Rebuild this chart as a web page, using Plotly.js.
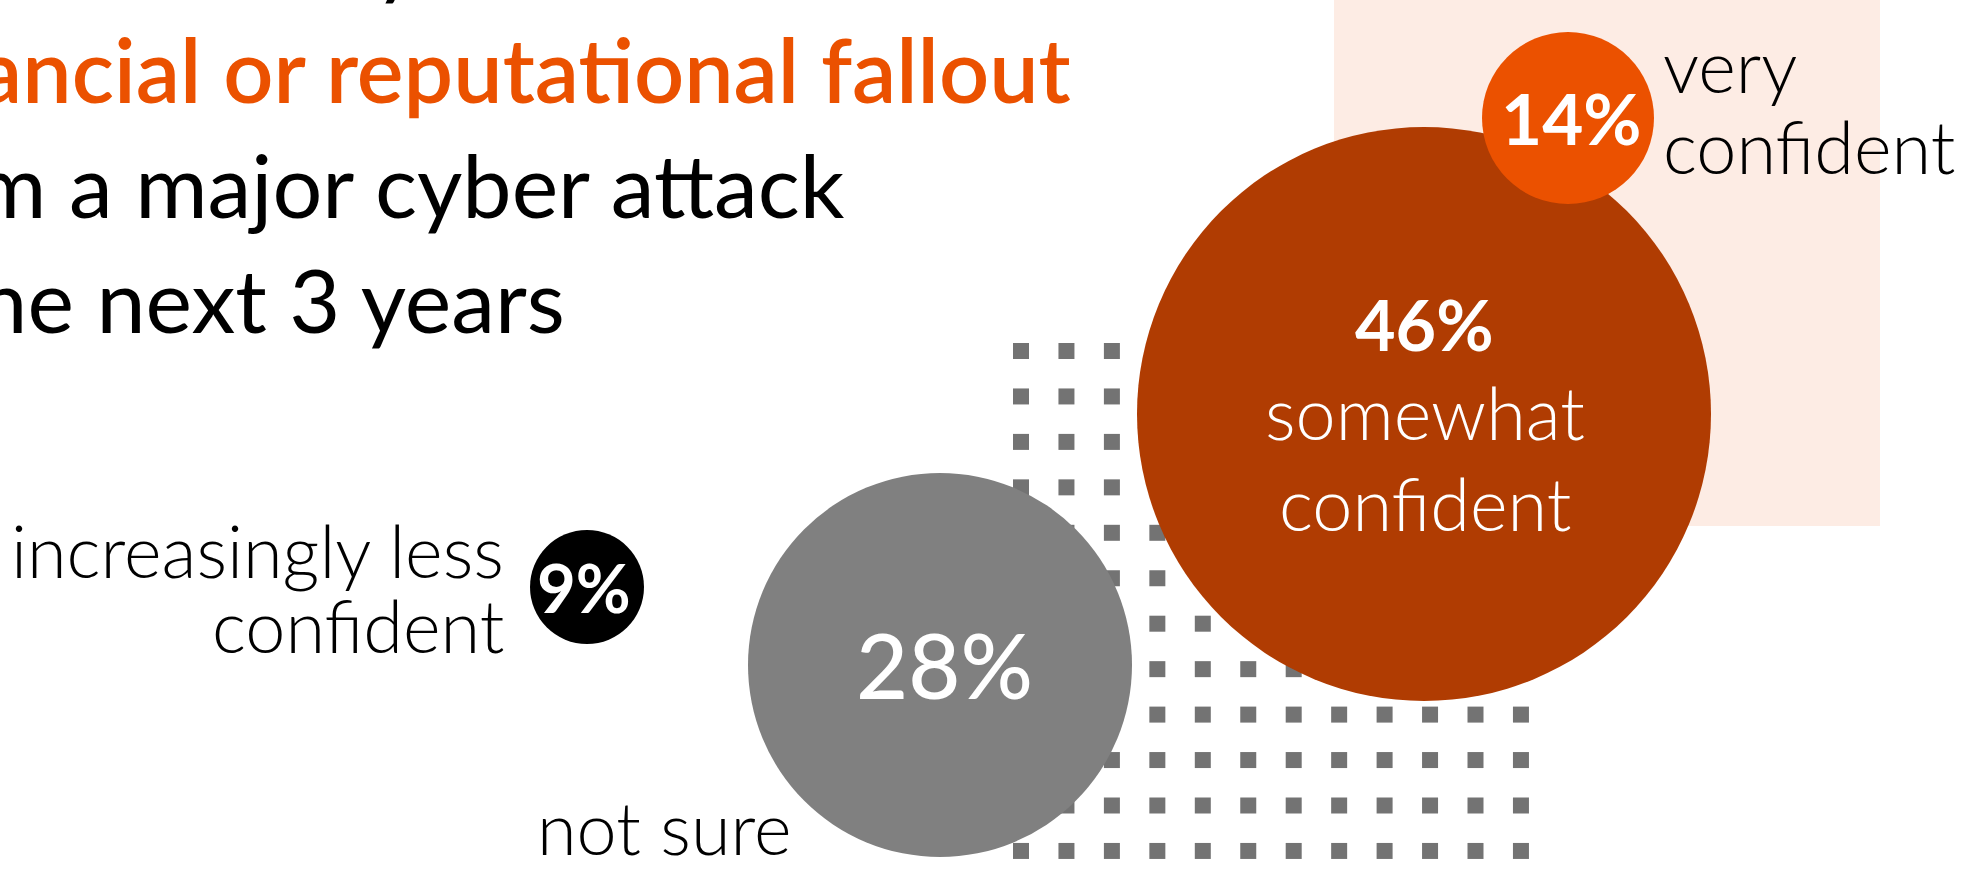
<!DOCTYPE html>
<html><head><meta charset="utf-8">
<script src="https://cdn.plot.ly/plotly-3.0.1.min.js"></script>
<style>html,body{margin:0;padding:0;background:#fff;overflow:hidden}</style>
</head><body><div id="chart" style="width:1981px;height:892px"></div>
<script>
// ---- data ----
const categories = ["somewhat confident", "very confident", "not sure", "increasingly less confident"];
const values = [46, 14, 28, 9];
const titleLines = ["confident they can avoid", "financial or reputational fallout", "from a major cyber attack", "in the next 3 years"];

// ---- layout / style (pixel space) ----
const W = 1981, H = 892;
const bubbleX = [1424, 1568, 940, 587];
const bubbleY = [414, 118, 665, 587];
const bubbleDiam = [574, 172, 384, 114];
const bubbleColors = ["#B03C02", "#EB5100", "#808080", "#000000"];
const pctX = [1424, 1571, 944, 584];
const pctBase = [351, 145, 699, 613];
const pctSize = [70, 71, 90, 67];
const pctWeight = [700, 700, 500, 700];
const labelWordsFirstLine = [1, 1, 2, 2];
const labelX = [1425, 1661, 535, 506];
const labelAnchor = ["center", "left", "left", "right"];
const labelBase = [[440, 531], [93, 174], [855], [578, 653]];
const labelColor = ["#ffffff", "#000000", "#000000", "#000000"];
const labelSize = 72;
const titleXpx = [-142, 1073, 847, 567], titleAnchor = ["left", "right", "right", "right"];
const titleBase = [-12, 103, 218, 333], titleSize = 88;
const titleColors = ["#000000", "#EB5100", "#000000", "#000000"];
const titleWeights = [400, 600, 400, 400];
const FONT = "Lato, 'Open Sans', sans-serif";

// dot grid decoration
const gridX0 = 1021, gridY0 = 351, gridStep = 45.45, gridN = 12;
const gx = [], gy = [];
for (let i = 0; i < gridN; i++) for (let j = 0; j < gridN; j++) { gx.push(gridX0 + i * gridStep); gy.push(gridY0 + j * gridStep); }

// baseline -> annotation bottom
const DESC = 0.215;
function yFromBase(base, size) { return base + DESC * size + 2; }

const annotations = [];
values.forEach((v, i) => {
  annotations.push({
    xref: 'x', yref: 'y', x: pctX[i], y: yFromBase(pctBase[i], pctSize[i]),
    xanchor: 'center', yanchor: 'bottom', showarrow: false,
    text: v + '%',
    font: {family: FONT, size: pctSize[i], color: '#ffffff', weight: pctWeight[i]}
  });
  const words = categories[i].split(' ');
  const lines = [words.slice(0, labelWordsFirstLine[i]).join(' '), words.slice(labelWordsFirstLine[i]).join(' ')].filter(s => s.length);
  lines.forEach((ln, k) => {
    annotations.push({
      xref: 'x', yref: 'y', x: labelX[i], y: yFromBase(labelBase[i][k], labelSize),
      xanchor: labelAnchor[i], yanchor: 'bottom', showarrow: false,
      text: ln,
      font: {family: FONT, size: labelSize, color: labelColor[i], weight: 300}
    });
  });
});
titleLines.forEach((t, k) => {
  annotations.push({
    xref: 'paper', yref: 'paper', x: titleXpx[k] / W, y: 1 - yFromBase(titleBase[k], titleSize) / H,
    xanchor: titleAnchor[k], yanchor: 'bottom', showarrow: false, text: t,
    font: {family: FONT, size: titleSize, color: titleColors[k], weight: titleWeights[k]}
  });
});

const traces = [
  {type: 'scatter', mode: 'markers', x: gx, y: gy, hoverinfo: 'skip',
   marker: {symbol: 'square', size: 16, color: '#737373', line: {width: 0}}},
  {type: 'scatter', mode: 'markers', x: bubbleX, y: bubbleY, text: categories, customdata: values,
   marker: {size: bubbleDiam, sizemode: 'diameter', color: bubbleColors, opacity: 1, line: {width: 0}}}
];

const layout = {
  width: W, height: H, margin: {l: 0, r: 0, t: 0, b: 0},
  paper_bgcolor: '#ffffff', plot_bgcolor: '#ffffff', showlegend: false,
  xaxis: {range: [0, W], visible: false, fixedrange: true},
  yaxis: {range: [H, 0], visible: false, fixedrange: true},
  shapes: [{type: 'rect', xref: 'x', yref: 'y', x0: 1334, x1: 1880, y0: 0, y1: 526,
            fillcolor: '#FDECE4', line: {width: 0}, layer: 'below'}],
  annotations: annotations
};
Plotly.newPlot('chart', traces, layout, {staticPlot: true, displayModeBar: false});
</script></body></html>
